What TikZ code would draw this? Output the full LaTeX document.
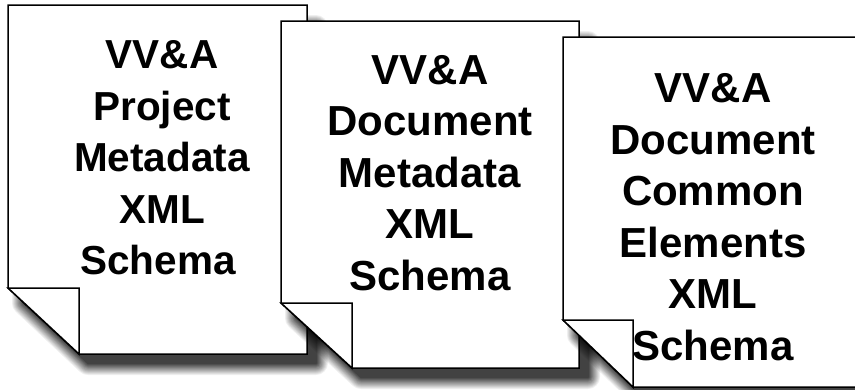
\documentclass[tikz,border=0pt]{standalone}
\usepackage{fontspec}
\setmainfont{Liberation Sans}
\tikzset{
  x=1pt,y=-1pt,
  sheet/.style={draw=black,line width=1.5pt,fill=white,line join=miter},
  foldline/.style={draw=black,line width=1.5pt,fill=white,line join=miter},
  label/.style={align=center,font=\fontsize{#1}{51.5}\selectfont\bfseries,inner sep=0pt},
  shadowlayer/.style={draw=black,fill=black,line join=round},
}
% #1 left #2 top #3 right #4 bottom #5 foldx #6 foldy
\newcommand{\shadowdraw}[6]{%
  \foreach \w/\a in {24/.0608,22/.0648,20/.0693,18/.0744,16/.0804,14/.0874,12/.0957,10/.106,8/.1185,6/.1344,4/.1553,2/.1838}{%
    \begin{scope}[transparency group,opacity=\a]
      \draw[shadowlayer,line width=\w pt] (#1+16,#6+15) -- (#1+16,#2+22) -- (#3+9,#2+22) -- (#3+9,#4+9) -- (#5+9,#4+9) -- cycle;
    \end{scope}
  }%
}
\newcommand{\pagedraw}[6]{%
  \path[sheet] (#1,#6) -- (#1,#2) -- (#3,#2) -- (#3,#4) -- (#5,#4) -- cycle;
  \path[foldline] (#1,#6) -- (#5,#6) -- (#5,#4) -- cycle;
}
\begin{document}
\begin{tikzpicture}
\useasboundingbox (0,0) rectangle (855,389);
\fill[white] (0,0) rectangle (855,389);
\begin{scope}
\clip (0,0) rectangle (855,389);
\shadowdraw{8}{5}{307}{354}{79}{288}
\pagedraw{8}{5}{307}{354}{79}{288}
\shadowdraw{281}{21}{579}{368}{352}{303}
\pagedraw{281}{21}{579}{368}{352}{303}
\shadowdraw{563}{37}{875}{387}{633}{320}
\pagedraw{563}{37}{875}{387}{633}{320}
\end{scope}
\node[label=40.5] (p1) at (162,158) {VV\&A\\Project\\Metadata\\XML\\Schema\hspace*{8pt}};
\node[label=42] (p2) at (430,173) {VV\&A\\Document\\Metadata\\XML\\Schema};
\node[label=42] (p3) at (713,217) {VV\&A\\Document\\Common\\Elements\\XML\\Schema};
\end{tikzpicture}
\end{document}
